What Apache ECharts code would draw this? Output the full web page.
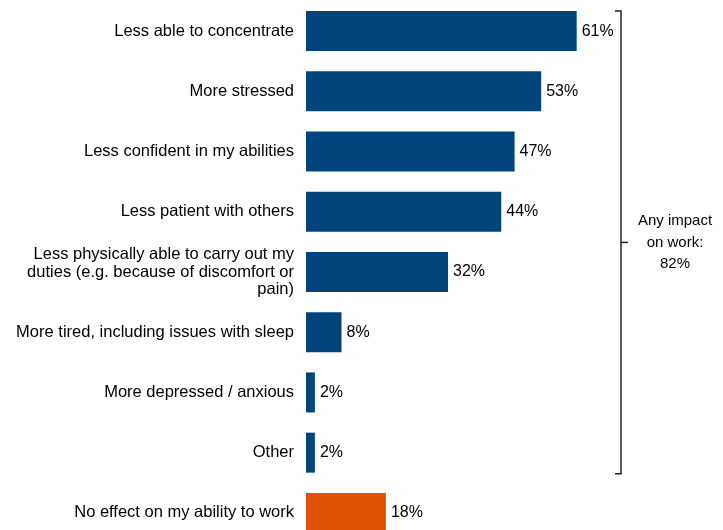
<!DOCTYPE html>
<html>
<head>
<meta charset="utf-8">
<script src="https://cdn.jsdelivr.net/npm/echarts@6/dist/echarts.min.js"></script>
<style>
  html, body { margin: 0; padding: 0; background: #fff; }
  #chart { width: 723px; height: 530px; }
</style>
</head>
<body>
<div id="chart"></div>
<script>
// Reported effects on work, share of respondents (%)
const categories = [
  'Less able to concentrate',
  'More stressed',
  'Less confident in my abilities',
  'Less patient with others',
  'Less physically able to carry out my\nduties (e.g. because of discomfort or\npain)',
  'More tired, including issues with sleep',
  'More depressed / anxious',
  'Other',
  'No effect on my ability to work'
];
const values = [61, 53, 47, 44, 32, 8, 2, 2, 18];
const impactGroupCount = 8;          // first eight rows form the "any impact" group
const anyImpactLabel = 'Any impact\non work:\n82%';

const BLUE = '#00447C';
const ORANGE = '#E05206';
const FONT = 'Liberation Sans, Arial, sans-serif';

const chart = echarts.init(document.getElementById('chart'));

const option = {
  animation: false,
  // last row runs off the bottom edge
  grid: { left: 306, right: 62, top: 1, height: 542, outerBoundsMode: 'none', containLabel: false },
  xAxis: {
    type: 'value', min: 0, max: 80,
    show: false
  },
  yAxis: {
    type: 'category',
    data: categories,
    inverse: true,
    axisLine: { show: false },
    axisTick: { show: false },
    axisLabel: {
      color: '#000', fontSize: 16.5, fontFamily: FONT,
      margin: 12, lineHeight: 17.5, align: 'right'
    }
  },
  series: [{
    type: 'bar',
    data: values.map((v, i) => ({
      value: v,
      itemStyle: { color: i < impactGroupCount ? BLUE : ORANGE }
    })),
    barWidth: 40,
    label: {
      show: true, position: 'right', distance: 5,
      formatter: p => p.value + '%',
      color: '#000', fontSize: 16, fontFamily: FONT
    }
  }]
};
chart.setOption(option);

// Bracket grouping the impact rows, with its summary text
function drawBracket() {
  const half = 20;
  const yTop = chart.convertToPixel({ yAxisIndex: 0 }, categories[0]) - half;
  const yBot = chart.convertToPixel({ yAxisIndex: 0 }, categories[impactGroupCount - 1]) + half + 1;
  const yMid = (yTop + yBot) / 2;
  const x = 621;
  const stroke = { stroke: '#222', lineWidth: 1.5 };
  chart.setOption({
    graphic: [
      { type: 'polyline', shape: { points: [[x - 6, yTop], [x, yTop], [x, yBot], [x - 6, yBot]] }, style: Object.assign({ fill: null }, stroke) },
      { type: 'line', shape: { x1: x, y1: yMid, x2: x + 7, y2: yMid }, style: stroke },
      {
        type: 'text', x: 675, y: yMid,
        style: {
          text: anyImpactLabel, fill: '#000', font: '15px ' + FONT,
          align: 'center', verticalAlign: 'middle', lineHeight: 21.5
        }
      }
    ]
  });
}
drawBracket();
</script>
</body>
</html>
